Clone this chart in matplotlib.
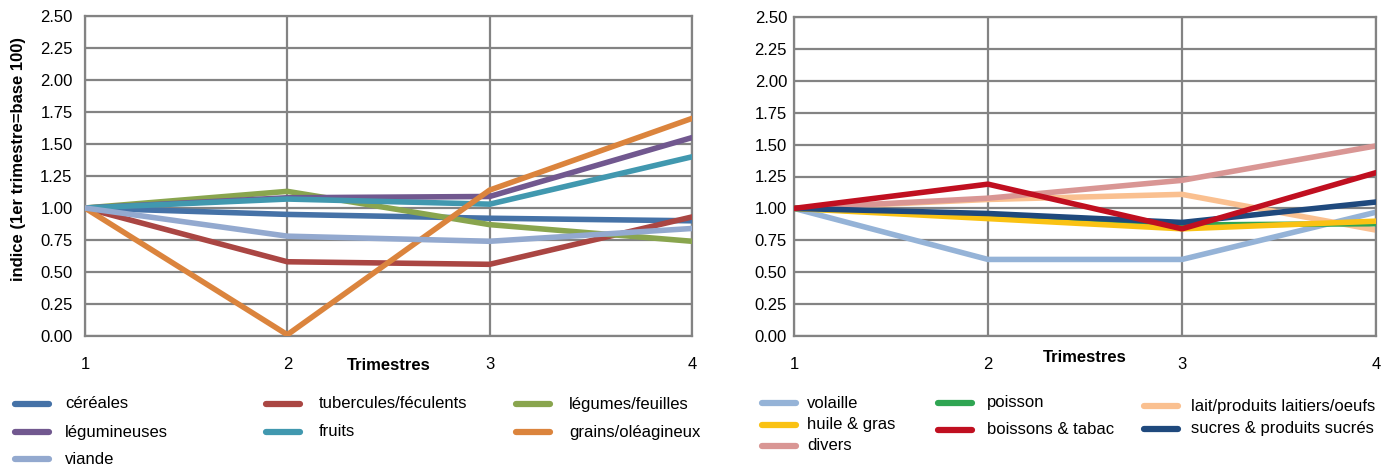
import matplotlib
matplotlib.use("Agg")
import matplotlib.pyplot as plt
from matplotlib.lines import Line2D

plt.rcParams['font.family'] = ['Liberation Sans', 'DejaVu Sans']

## Data - index values per quarter (1st quarter = base 1.00)
trimestres = [1, 2, 3, 4]

# left chart
labels_g = ["céréales", "tubercules/féculents", "légumes/feuilles",
            "légumineuses", "fruits", "grains/oléagineux", "viande"]
cereales = [1.00, 0.95, 0.92, 0.90]
tubercules = [1.00, 0.58, 0.56, 0.93]
legumes = [1.00, 1.13, 0.87, 0.74]
legumineuses = [1.00, 1.08, 1.09, 1.55]
fruits = [1.00, 1.07, 1.03, 1.40]
grains = [1.00, 0.01, 1.14, 1.70]
viande = [1.00, 0.78, 0.74, 0.84]
series_g = [cereales, tubercules, legumes, legumineuses, fruits, grains, viande]
colors_g = ["#4572A7", "#AA4643", "#89A54E", "#71588F", "#4198AF", "#DB843D", "#93A9CF"]

# right chart
labels_d = ["volaille", "poisson", "lait/produits laitiers/oeufs", "huile & gras",
            "boissons & tabac", "sucres & produits sucrés", "divers"]
volaille = [1.00, 0.60, 0.60, 0.97]
poisson = [1.00, 0.94, 0.87, 0.88]
lait = [1.00, 1.07, 1.11, 0.83]
huile = [1.00, 0.92, 0.84, 0.90]
boissons = [1.00, 1.19, 0.84, 1.28]
sucres = [1.00, 0.96, 0.89, 1.05]
divers = [1.00, 1.08, 1.22, 1.49]
series_d = [volaille, poisson, lait, huile, boissons, sucres, divers]
colors_d = ["#95B3D7", "#2FA552", "#FAC090", "#FAC213", "#C00F20", "#1F497D", "#D99694"]
zorder_d = [2, 3, 2, 4, 6, 5, 2]

yticks = [0.00, 0.25, 0.50, 0.75, 1.00, 1.25, 1.50, 1.75, 2.00, 2.25, 2.50]

W, H = 1386, 468
fig = plt.figure(figsize=(W / 100, H / 100), dpi=100)

def px_box(x0, x1, y0, y1):
    # pixel box -> figure fraction [left, bottom, width, height]
    return [x0 / W, 1 - y1 / H, (x1 - x0) / W, (y1 - y0) / H]

def style_axes(ax, pad):
    ax.set_xlim(1, 4)
    ax.set_ylim(0, 2.5)
    ax.set_xticks(trimestres)
    ax.set_yticks(yticks)
    ax.set_yticklabels([f"{v:.2f}" for v in yticks])
    ax.grid(True, color="#838383", lw=1.6)
    for s in ax.spines.values():
        s.set_color("#838383")
        s.set_linewidth(1.6)
    ax.tick_params(length=0, labelsize=12, colors="black")
    ax.tick_params(axis='y', pad=pad)
    ax.tick_params(axis='x', pad=15)
    ax.set_axisbelow(True)

ax1 = fig.add_axes(px_box(85, 692, 16, 336))
ax2 = fig.add_axes(px_box(794, 1376, 17, 336))
style_axes(ax1, 9)
style_axes(ax2, 5)

for vals, c in zip(series_g, colors_g):
    ax1.plot(trimestres, vals, color=c, lw=4, solid_capstyle='round', zorder=3)
for vals, c, z in zip(series_d, colors_d, zorder_d):
    ax2.plot(trimestres, vals, color=c, lw=4, solid_capstyle='round', zorder=z)

fig.text(19 / W, 1 - 159 / H, "indice (1er trimestre=base 100)", rotation=90,
         fontsize=12, fontweight='bold', ha='center', va='center')
fig.text(389 / W, 1 - 366 / H, "Trimestres", fontsize=12, fontweight='bold',
         ha='center', va='center')
fig.text(1085 / W, 1 - 357 / H, "Trimestres", fontsize=12, fontweight='bold',
         ha='center', va='center')

## Legends drawn entry by entry (handle start x, row y, text x) in pixels
leg_g = [(12, 404, 65), (263, 404, 319), (513, 404, 569),
         (12, 432, 65), (263, 432, 319), (513, 432, 569),
         (12, 459, 65)]
leg_d = [(759, 403, 807), (935, 403, 987), (1141, 406, 1191),
         (759, 425, 807), (935, 430, 987), (1141, 429, 1191),
         (759, 446, 807)]

def draw_legend(entries, labels, colors):
    for (hx, y, tx), lab, c in zip(entries, labels, colors):
        yf = 1 - y / H
        fig.add_artist(Line2D([(hx + 3) / W, (hx + 37) / W], [yf, yf], color=c,
                              lw=4.5, solid_capstyle='round'))
        fig.text(tx / W, yf, lab, fontsize=12, ha='left', va='center')

draw_legend(leg_g, labels_g, colors_g)
draw_legend(leg_d, labels_d, colors_d)

fig.savefig("out.png", dpi=100)
